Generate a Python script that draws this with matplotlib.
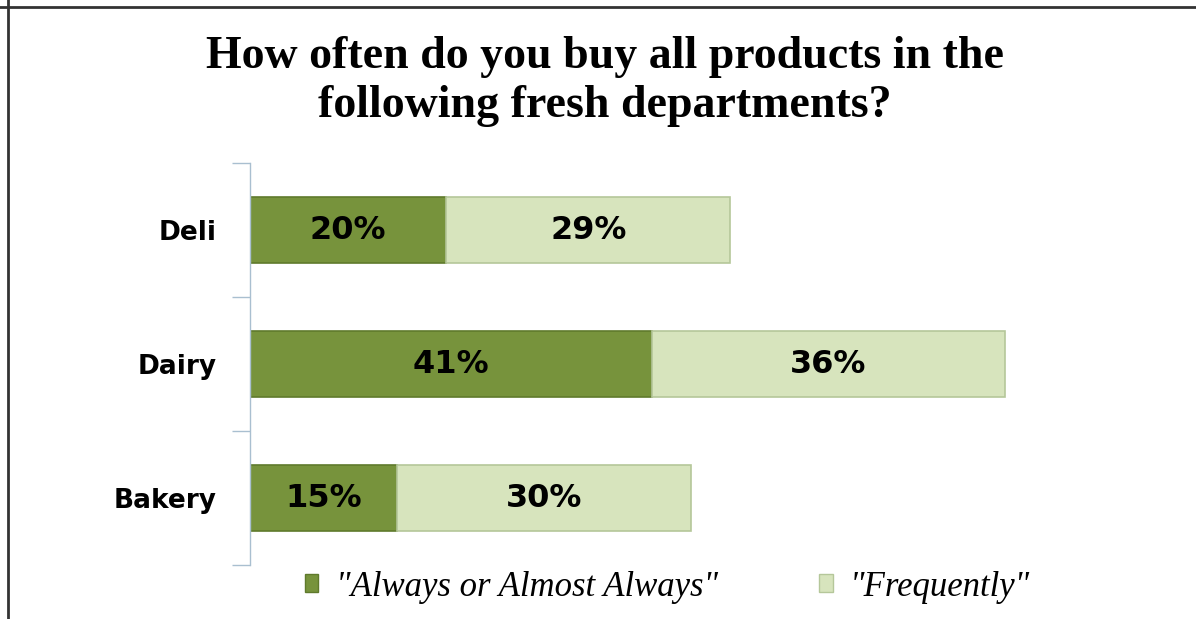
import matplotlib.pyplot as plt
from matplotlib.lines import Line2D
from matplotlib.patches import Patch

# survey results, percent of shoppers
departments = ['Deli', 'Dairy', 'Bakery']
always = [20, 41, 15]
frequently = [29, 36, 30]
series_names = ['"Always or Almost Always"', '"Frequently"']

dark_green = '#77933c'
light_green = '#d7e4bd'

fig = plt.figure(figsize=(11.96, 6.19), dpi=100)
ax = fig.add_axes([250 / 1196, 1 - 565 / 619, 850 / 1196, 402 / 619])

y = list(range(len(departments)))
ax.barh(y, always, height=0.49, color=dark_green, edgecolor='#5f7a2c', linewidth=1.2)
ax.barh(y, frequently, left=always, height=0.49, color=light_green,
        edgecolor='#b5c79a', linewidth=1.2)

for i in y:
    ax.text(always[i] / 2, i, f'{always[i]}%', ha='center', va='center',
            fontsize=23, fontweight='bold', family='DejaVu Sans', color='black')
    ax.text(always[i] + frequently[i] / 2, i, f'{frequently[i]}%', ha='center',
            va='center', fontsize=23, fontweight='bold', family='DejaVu Sans',
            color='black')

ax.set_xlim(0, 86.7)
ax.set_ylim(len(departments) - 0.5, -0.5)
ax.set_yticks(y)
ax.set_yticklabels(departments, fontsize=19, fontweight='bold', family='DejaVu Sans')
ax.tick_params(axis='y', which='major', length=0, pad=24)
ax.set_yticks([-0.5, 0.5, 1.5, 2.5], minor=True)
ax.tick_params(axis='y', which='minor', length=13, color='#a9bfd0', width=1)
ax.set_xticks([])
for side in ['top', 'right', 'bottom']:
    ax.spines[side].set_visible(False)
ax.spines['left'].set_color('#a9bfd0')
ax.spines['left'].set_linewidth(1)

fig.text(0.506, 0.942, 'How often do you buy all products in the\nfollowing fresh departments?',
         ha='center', va='top', fontsize=33, fontweight='bold',
         family='Liberation Serif', linespacing=1.22)

handles = [Patch(facecolor=dark_green, edgecolor='#5f7a2c'),
           Patch(facecolor=light_green, edgecolor='#b5c79a')]
fig.legend(handles, series_names, loc='center', bbox_to_anchor=(0.558, 1 - 587 / 619),
           ncol=2, frameon=False, handlelength=0.4, handleheight=0.4,
           handletextpad=0.5, columnspacing=2.9,
           prop={'family': 'Liberation Serif', 'style': 'italic', 'size': 25})

# frame lines along the top and left edges
fig.add_artist(Line2D([0, 1], [1 - 7 / 619] * 2, color='#333333', lw=2,
                      transform=fig.transFigure))
fig.add_artist(Line2D([8 / 1196] * 2, [0, 1], color='#333333', lw=2,
                      transform=fig.transFigure))

fig.savefig('out.png', dpi=100)
